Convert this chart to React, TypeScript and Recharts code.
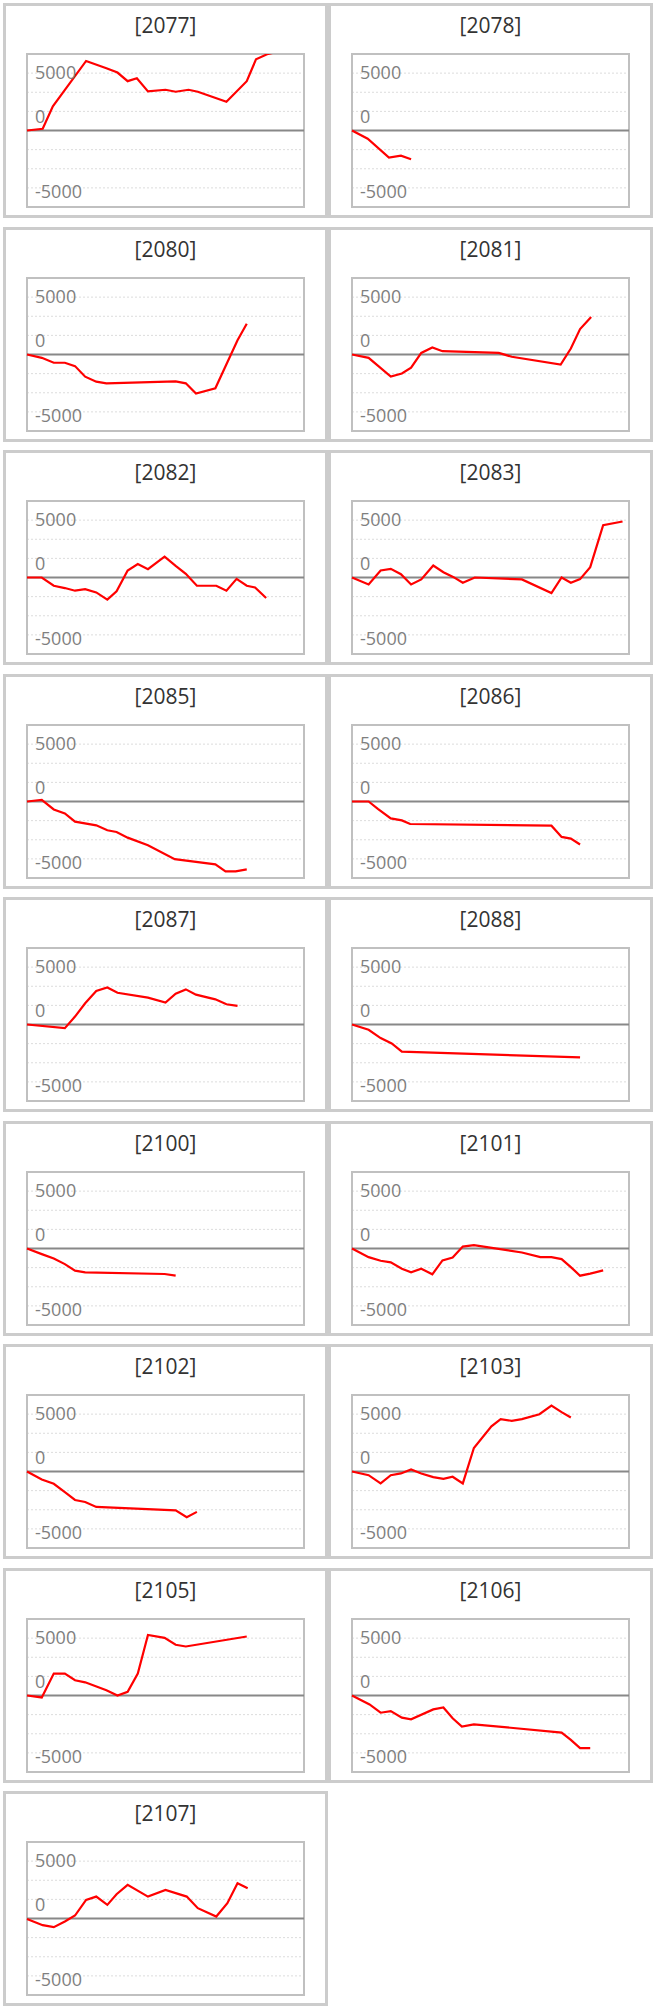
import React from 'react';
import { LineChart, Line, XAxis, YAxis, CartesianGrid, ReferenceLine, ReferenceArea } from 'recharts';

// codes shown in the panel titles
const codes = ['2077', '2078', '2080', '2081', '2082', '2083', '2085', '2086', '2087', '2088', '2100', '2101', '2102', '2103', '2105', '2106', '2107'];

// [day, value] pairs for every code
const s2077 = [[0, 0], [1.7, 150], [2.8, 2110], [6.4, 6060], [8.6, 5430], [9.8, 5050], [10.9, 4300], [11.9, 4560], [13.1, 3410], [15.0, 3550], [16.1, 3380], [17.5, 3550], [18.5, 3380], [21.6, 2510], [23.8, 4300], [24.8, 6200], [26.0, 6640], [27.3, 6900]];
const s2078 = [[0, 0], [1.7, -720], [4.0, -2370], [5.3, -2190], [6.4, -2510]];
const s2080 = [[0, 0], [1.6, -290], [2.9, -720], [4.1, -720], [5.2, -1010], [6.3, -1930], [7.5, -2370], [8.6, -2510], [16.1, -2340], [17.2, -2510], [18.3, -3410], [20.4, -2940], [22.8, 1240], [23.8, 2680]];
const s2081 = [[0, 0], [1.8, -290], [4.2, -1930], [5.4, -1650], [6.4, -1150], [7.5, 140], [8.7, 610], [9.8, 290], [15.9, 140], [17.3, -200], [22.6, -870], [23.7, 520], [24.7, 2220], [25.9, 3260]];
const s2082 = [[0, 0], [1.6, 0], [2.9, -720], [4.1, -920], [5.2, -1150], [6.3, -1010], [7.5, -1300], [8.7, -1930], [9.7, -1210], [10.9, 610], [12.0, 1180], [13.1, 720], [14.9, 1820], [16.1, 1010], [17.2, 320], [18.4, -720], [20.5, -720], [21.6, -1150], [22.7, -120], [23.8, -720], [24.7, -870], [25.9, -1790]];
const s2083 = [[0, 0], [1.8, -610], [3.1, 610], [4.2, 750], [5.3, 290], [6.4, -610], [7.5, -170], [8.8, 1040], [9.9, 460], [11.0, 30], [12.0, -460], [13.3, 0], [18.4, -170], [21.6, -1360], [22.7, 0], [23.7, -460], [24.7, -140], [25.8, 900], [27.2, 4560], [29.3, 4880]];
const s2085 = [[0, 0], [1.6, 140], [2.9, -690], [4.1, -1040], [5.2, -1760], [7.5, -2080], [8.7, -2510], [9.7, -2660], [10.9, -3150], [13.1, -3810], [16.0, -5020], [20.4, -5480], [21.5, -6090], [22.6, -6090], [23.8, -5920]];
const s2086 = [[0, 0], [1.8, 0], [2.8, -640], [4.2, -1470], [5.4, -1650], [6.3, -1960], [21.6, -2110], [22.7, -3090], [23.7, -3230], [24.7, -3750]];
const s2087 = [[0, 0], [4.1, -320], [5.2, 690], [6.3, 1850], [7.5, 2920], [8.7, 3230], [9.8, 2770], [13.1, 2340], [15.0, 1910], [16.1, 2680], [17.2, 3060], [18.3, 2600], [20.4, 2190], [21.6, 1760], [22.8, 1620]];
const s2088 = [[0, 0], [1.8, -460], [3.1, -1180], [4.3, -1650], [5.4, -2370], [24.7, -2860]];
const s2100 = [[0, 0], [1.6, -490], [2.9, -870], [4.1, -1360], [5.2, -1930], [6.3, -2080], [14.9, -2220], [16.1, -2370]];
const s2101 = [[0, 0], [1.8, -750], [3.1, -1070], [4.2, -1210], [5.4, -1760], [6.4, -2080], [7.5, -1760], [8.7, -2250], [9.8, -1040], [10.9, -780], [12.0, 170], [13.2, 290], [18.4, -350], [20.4, -750], [21.6, -750], [22.7, -920], [23.7, -1620], [24.7, -2370], [25.8, -2190], [27.2, -1910]];
const s2102 = [[0, 0], [1.6, -690], [2.9, -1070], [4.1, -1790], [5.2, -2480], [6.3, -2660], [7.5, -3090], [16.1, -3380], [17.3, -3980], [18.4, -3520]];
const s2103 = [[0, 0], [1.8, -320], [3.1, -1040], [4.2, -320], [5.3, -170], [6.4, 170], [7.5, -170], [8.8, -490], [9.9, -640], [10.9, -460], [12.0, -1040], [13.2, 2050], [15.1, 3930], [16.1, 4560], [17.3, 4420], [18.4, 4560], [20.3, 4990], [21.6, 5740], [22.7, 5170], [23.7, 4700]];
const s2105 = [[0, 0], [1.6, -170], [2.9, 1910], [4.1, 1910], [5.2, 1330], [6.3, 1150], [8.6, 460], [9.8, 0], [10.9, 320], [12.0, 1910], [13.1, 5280], [14.9, 5020], [16.1, 4420], [17.2, 4270], [23.8, 5140]];
const s2106 = [[0, 0], [1.9, -780], [3.1, -1500], [4.2, -1360], [5.4, -1930], [6.4, -2080], [8.8, -1210], [9.9, -1040], [10.9, -1990], [11.9, -2710], [13.2, -2510], [22.7, -3230], [23.7, -3870], [24.7, -4590], [25.8, -4590]];
const s2107 = [[0, -40], [1.7, -580], [2.9, -750], [4.1, -260], [5.2, 260], [6.4, 1620], [7.5, 1910], [8.7, 1190], [9.7, 2120], [10.9, 2930], [13.1, 1910], [15.0, 2490], [17.3, 1910], [18.5, 900], [20.5, 170], [21.7, 1330], [22.8, 3070], [23.9, 2640]];

const seriesList = [s2077, s2078, s2080, s2081, s2082, s2083, s2085, s2086, s2087, s2088, s2100, s2101, s2102, s2103, s2105, s2106, s2107];

// axis
const dayDomain = [0, 30];
const yMin = -20000 / 3;
const yMax = 20000 / 3;
const yTicks = [-20000 / 3, -5000, -10000 / 3, -5000 / 3, 0, 5000 / 3, 10000 / 3, 5000, 20000 / 3];
const labelValues = [5000, 0, -5000];

const PANEL_W = 325;
const PANEL_H = 215;
const ROW_PITCH = 223.5;
const COL_X = [3, 328];
const PLOT_LEFT = 24;

const renderTick = (props: any) => {
  const { y, payload } = props;
  const v = Number(payload && payload.value);
  if (!labelValues.some((l) => Math.abs(l - v) < 1)) return <g />;
  const label = Math.round(v);
  // the zero label sits above the axis line
  const shift = label === 0 ? -15 : label > 0 ? -1 : 3;
  return (
    <text x={PLOT_LEFT + 8} y={y + shift} dominantBaseline="central" textAnchor="start" fill="#7f7f7f" fontSize={18} fontFamily="'Open Sans', sans-serif">
      {label}
    </text>
  );
};

const Panel = ({ code, pts, left, top }: { code: string; pts: number[][]; left: number; top: number }) => {
  const data = pts.map(([d, v]) => ({ d, v }));
  return (
    <div style={{ position: 'absolute', left, top, width: PANEL_W, height: PANEL_H, boxSizing: 'border-box', border: '3px solid #cccccc', background: '#fff' }}>
      <div style={{ position: 'absolute', left: 0, right: 0, top: 5, lineHeight: '28px', textAlign: 'center', fontSize: 21, fontFamily: "'Open Sans', sans-serif", color: '#333' }}>
        [{code}]
      </div>
      <div style={{ position: 'absolute', left: -3, top: -3 }}>
        <LineChart width={PANEL_W} height={PANEL_H} data={data} margin={{ top: 51, right: 24, bottom: 11, left: PLOT_LEFT }}>
          <CartesianGrid vertical={false} stroke="#dcdcdc" strokeDasharray="2 2" />
          <XAxis dataKey="d" type="number" domain={dayDomain} hide />
          <YAxis
            type="number"
            domain={[yMin, yMax]}
            ticks={yTicks}
            allowDataOverflow
            mirror
            axisLine={false}
            tickLine={false}
            tick={renderTick}
            interval={0}
          />
          <ReferenceArea x1={dayDomain[0]} x2={dayDomain[1]} y1={yMin} y2={yMax} fill="none" stroke="#c0c0c0" strokeWidth={2} ifOverflow="visible" />
          <ReferenceLine y={0} stroke="#888" strokeWidth={2} />
          <Line dataKey="v" type="linear" stroke="#ff0000" strokeWidth={2.2} dot={false} isAnimationActive={false} />
        </LineChart>
      </div>
    </div>
  );
};

export default function App() {
  return (
    <div style={{ position: 'absolute', left: 0, top: 0, width: 657, height: 2011, background: '#fff' }}>
      {codes.map((code, i) => (
        <Panel key={code} code={code} pts={seriesList[i]} left={COL_X[i % 2]} top={Math.round(3 + Math.floor(i / 2) * ROW_PITCH)} />
      ))}
    </div>
  );
}
